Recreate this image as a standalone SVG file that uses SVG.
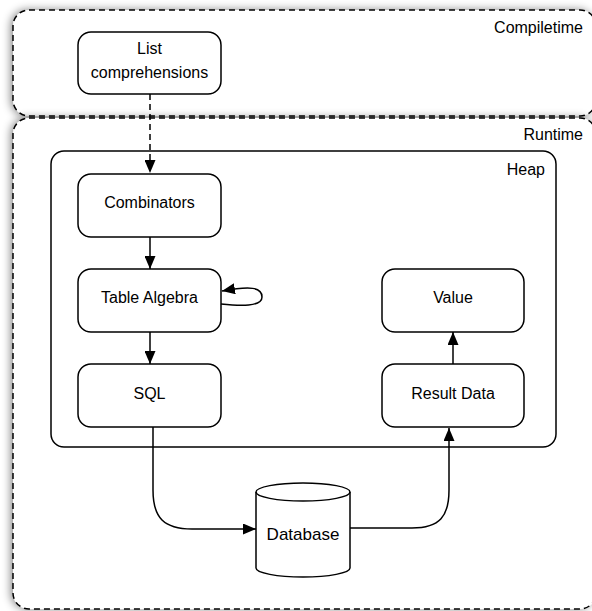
<svg xmlns="http://www.w3.org/2000/svg" width="592" height="611" viewBox="0 0 592 611">
<style>
.lbl{font-family:"Liberation Sans",Arial,sans-serif;font-size:16px;fill:#000;text-anchor:middle}
.cap{font-family:"Liberation Sans",Arial,sans-serif;font-size:16px;fill:#000;text-anchor:end}
.zone{fill:#fff;stroke:#000;stroke-width:1.5;stroke-dasharray:6 4}
.node{fill:#fff;stroke:#000;stroke-width:1.5}
.edge{fill:none;stroke:#000;stroke-width:1.5}
</style>
<defs>
<filter id="sh" x="-10%" y="-10%" width="120%" height="120%">
<feDropShadow dx="-2" dy="0" stdDeviation="4" flood-color="#000" flood-opacity="0.45"/>
</filter>
<marker id="ah" viewBox="0 0 13 11" refX="13" refY="5.5" markerWidth="13" markerHeight="11" markerUnits="userSpaceOnUse" orient="auto">
<path d="M0,0 L13,5.5 L0,11 z" fill="#000"/>
</marker>
</defs>
<rect width="592" height="611" fill="#fff"/>
<g id="compiletime">
<rect class="zone" x="13" y="10" width="583" height="106" rx="16" filter="url(#sh)"/>
<text class="cap" x="583" y="33">Compiletime</text>
</g>
<g id="runtime">
<rect class="zone" x="13" y="118" width="583" height="491" rx="16" filter="url(#sh)"/>
<text class="cap" x="583" y="140">Runtime</text>
</g>
<g id="heap">
<rect class="node" x="51" y="151" width="505" height="296" rx="13"/>
<text class="cap" x="545" y="175">Heap</text>
</g>
<g id="list-comprehensions">
<rect class="node" x="78" y="32" width="143" height="62" rx="13"/>
<text class="lbl" x="149.5" y="54">List</text>
<text class="lbl" x="149.5" y="78">comprehensions</text>
</g>
<g id="combinators">
<rect class="node" x="78" y="174" width="143" height="63" rx="13"/>
<text class="lbl" x="149.5" y="208">Combinators</text>
</g>
<g id="table-algebra">
<rect class="node" x="78" y="269" width="143" height="63" rx="13"/>
<text class="lbl" x="149.5" y="303">Table Algebra</text>
</g>
<g id="sql">
<rect class="node" x="78" y="364" width="143" height="63" rx="13"/>
<text class="lbl" x="149.5" y="399">SQL</text>
</g>
<g id="value">
<rect class="node" x="382" y="269" width="142" height="63" rx="13"/>
<text class="lbl" x="453" y="303">Value</text>
</g>
<g id="result-data">
<rect class="node" x="382" y="364" width="142" height="63" rx="13"/>
<text class="lbl" x="453" y="399">Result Data</text>
</g>
<g id="database">
<path class="node" d="M256,492 L256,568 A47,9 0 0 0 350,568 L350,492 A47,9 0 0 0 256,492 Z"/>
<path class="edge" d="M256,492 A47,9 0 0 0 350,492"/>
<text x="303" y="540" style="font-family:'Liberation Sans',Arial,sans-serif;font-size:17px;text-anchor:middle">Database</text>
</g>
<g id="connectors">
<path class="edge" d="M150,94 L150,173" stroke-dasharray="6 4" marker-end="url(#ah)"/>
<path class="edge" d="M150,237 L150,269" marker-end="url(#ah)"/>
<path class="edge" d="M150,332 L150,364" marker-end="url(#ah)"/>
<path class="edge" d="M453,364 L453,332" marker-end="url(#ah)"/>
<path class="edge" d="M221,304 C240,306 262,307 262,297 C262,287 250,286 222,291" marker-end="url(#ah)"/>
<path class="edge" d="M153,427 L153,490 C153,518 164,529 192,529 L256,529" marker-end="url(#ah)"/>
<path class="edge" d="M350,528 L412,528 C440,528 449,516 449,490 L449,428" marker-end="url(#ah)"/>
</g>
</svg>
